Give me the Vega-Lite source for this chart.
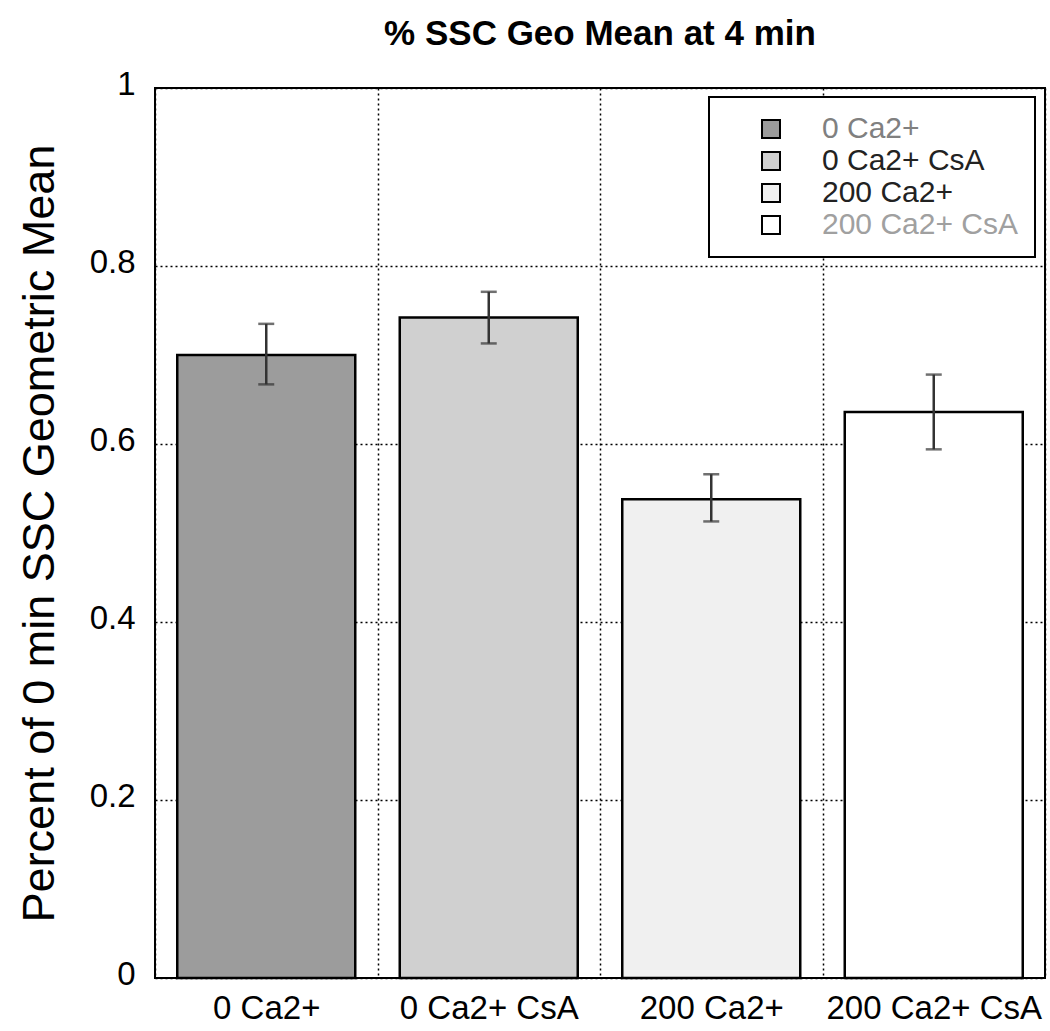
{
  "$schema": "https://vega.github.io/schema/vega-lite/v6.json",
  "width": 890,
  "height": 890,
  "autosize": "none",
  "padding": {"left": 155, "top": 88, "right": 5, "bottom": 53},
  "background": "white",
  "config": {"font": "Liberation Sans", "view": {"stroke": "black", "strokeWidth": 2}},
  "title": {"text": "% SSC Geo Mean at 4 min", "fontSize": 35, "fontWeight": "bold", "color": "black", "offset": 16, "font": "Liberation Sans"},
  "data": {"values": [
    {"condition": "0 Ca2+", "mean": 0.700, "lower": 0.667, "upper": 0.735},
    {"condition": "0 Ca2+ CsA", "mean": 0.742, "lower": 0.713, "upper": 0.771},
    {"condition": "200 Ca2+", "mean": 0.538, "lower": 0.513, "upper": 0.566},
    {"condition": "200 Ca2+ CsA", "mean": 0.636, "lower": 0.594, "upper": 0.678}
  ]},
  "encoding": {
    "x": {"field": "condition", "type": "nominal", "sort": null,
      "scale": {"paddingInner": 0, "paddingOuter": 0},
      "axis": {"title": null, "labelAngle": 0, "labelFontSize": 33, "labelColor": "black", "labelPadding": 40, "labelBaseline": "alphabetic", "labelLimit": 400, "labelOverlap": false, "ticks": false, "domain": false, "grid": true, "tickBand": "extent", "gridColor": "black", "gridDash": [2, 3], "gridWidth": 1.5}}
  },
  "layer": [
    {
      "mark": {"type": "bar", "width": {"band": 0.8}, "stroke": "black", "strokeWidth": 2.5},
      "encoding": {
        "y": {"field": "mean", "type": "quantitative", "scale": {"domain": [0, 1]},
          "title": "Percent of 0 min SSC Geometric Mean",
          "axis": {"titleFontSize": 45, "titleFontWeight": "normal", "titleColor": "black", "titleX": -102, "titleBaseline": "alphabetic", "values": [0, 0.2, 0.4, 0.6, 0.8, 1], "format": "~g", "labelFontSize": 33, "labelColor": "black", "labelPadding": 20, "labelOffset": -4, "ticks": false, "domain": false, "grid": true, "gridColor": "black", "gridDash": [2, 3], "gridWidth": 1.5}},
        "fill": {"field": "condition", "type": "nominal", "sort": null,
          "scale": {"domain": ["0 Ca2+", "0 Ca2+ CsA", "200 Ca2+", "200 Ca2+ CsA"], "range": ["#9c9c9c", "#d0d0d0", "#f0f0f0", "#ffffff"]},
          "legend": {"orient": "none", "legendX": 554, "legendY": 9, "title": null, "symbolType": "square", "symbolSize": 324, "symbolStrokeColor": "black", "symbolStrokeWidth": 2, "labelFontSize": 30, "labelOffset": 36, "symbolOffset": 30, "padding": 17, "rowPadding": 2, "strokeColor": "black", "fillColor": "white", "labelFont": "Liberation Sans", "labelLimit": 400,
            "encode": {"labels": {"update": {"fill": {"signal": "datum.value === '0 Ca2+' ? '#808080' : datum.value === '200 Ca2+ CsA' ? '#a0a0a0' : '#222222'"}}}, "legend": {"update": {"strokeWidth": {"value": 2}}}}}}
      }
    },
    {
      "mark": {"type": "rule", "color": "#333333", "strokeWidth": 2.5},
      "encoding": {"y": {"field": "lower", "type": "quantitative", "title": "Percent of 0 min SSC Geometric Mean"}, "y2": {"field": "upper"}}
    },
    {
      "mark": {"type": "tick", "color": "#333333", "thickness": 2.5, "size": 16, "orient": "horizontal"},
      "encoding": {"y": {"field": "upper", "type": "quantitative", "title": "Percent of 0 min SSC Geometric Mean"}}
    },
    {
      "mark": {"type": "tick", "color": "#333333", "thickness": 2.5, "size": 16, "orient": "horizontal"},
      "encoding": {"y": {"field": "lower", "type": "quantitative", "title": "Percent of 0 min SSC Geometric Mean"}}
    }
  ]
}
